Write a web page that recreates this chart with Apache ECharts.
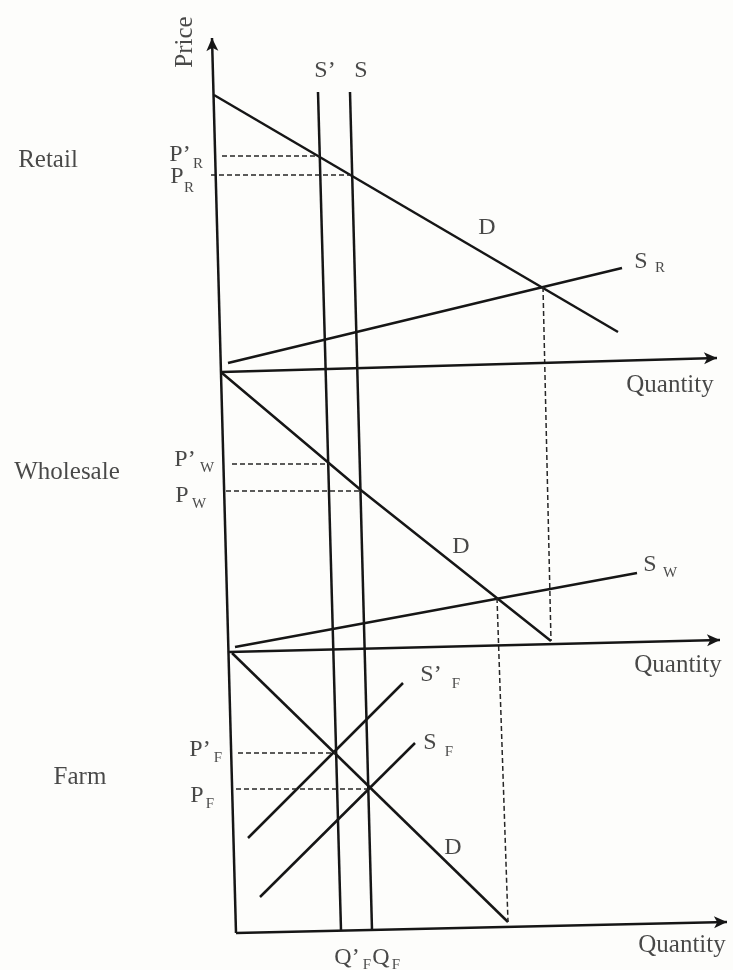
<!DOCTYPE html>
<html>
<head>
<meta charset="utf-8">
<title>Retail / Wholesale / Farm</title>
<script src="https://cdn.jsdelivr.net/npm/echarts@6/dist/echarts.min.js"></script>
<style>
  html, body { margin: 0; padding: 0; background: #fdfdfb; }
  #chart { width: 733px; height: 970px; }
</style>
</head>
<body>
<div id="chart"></div>
<script>
// points, in the chart's own (quantity, price) units; y grows downwards
// price axis (bottom -> arrow) and the three quantity axes (start -> arrow)
const priceAxis = [[236, 933], [212, 38]];
const qtyAxes = [
  [[222, 372], [717, 358]],
  [[229, 652], [720, 640]],
  [[236, 933], [727, 922]]
];
// vertical supply S' and S running through all three markets
const supplyPrime = [[318, 92], [341, 930]];
const supplyBase = [[350, 92], [372, 930]];
// retail
const demandR = [[214, 95], [618, 332]];
const supplyR = [[228, 363], [622, 268]];
// wholesale
const demandW = [[222, 373], [362, 491], [551, 641]];
const supplyW = [[235, 647], [637, 573]];
// farm
const demandF = [[232, 653], [508, 922]];
const supplyPrimeF = [[248, 838], [403, 683]];
const supplyF = [[260, 897], [415, 743]];
// dashed guides
const priceGuides = [
  [[222, 156], [320, 156]],
  [[211, 175], [351, 175]],
  [[232, 464], [329, 464]],
  [[226, 491], [362, 491]],
  [[238, 753], [335, 753]],
  [[236, 789], [369, 789]]
];
const qtyGuides = [
  [[543, 287], [551, 641]],
  [[497, 598], [508, 922]]
];

// text anchors
const wordLabels = [
  [48, 160, 'Retail'], [67, 472, 'Wholesale'], [80, 777, 'Farm'],
  [670, 385, 'Quantity'], [678, 665, 'Quantity'], [682, 945, 'Quantity']
];
const letterLabels = [
  [325, 71, 'S’'], [361, 71, 'S'],
  [180, 155, 'P’'], [177, 177, 'P'],
  [185, 460, 'P’'], [182, 496, 'P'],
  [200, 750, 'P’'], [197, 796, 'P'],
  [487, 228, 'D'], [461, 547, 'D'], [453, 848, 'D'],
  [641, 262, 'S'], [650, 565, 'S'],
  [431, 675, 'S’'], [430, 743, 'S'],
  [347, 958, 'Q’'], [381, 958, 'Q']
];
const subLabels = [
  [198, 164, 'R'], [189, 188, 'R'],
  [207, 468, 'W'], [199, 504, 'W'],
  [218, 758, 'F'], [210, 804, 'F'],
  [660, 268, 'R'], [670, 573, 'W'],
  [456, 684, 'F'], [449, 752, 'F'],
  [367, 965, 'F'], [396, 965, 'F']
];
const axisTitle = [[185, 42, 'Price']];

const ink = '#161616';
const serif = '"Liberation Serif", "DejaVu Serif", serif';

const myChart = echarts.init(document.getElementById('chart'));

function seg(name, pts, dashed) {
  return {
    name: name,
    type: 'line',
    data: pts,
    symbol: 'none',
    silent: true,
    lineStyle: dashed
      ? { color: '#262626', width: 1.5, type: [5, 3] }
      : { color: ink, width: 2.5 }
  };
}

function textSeries(name, list, size, rotate) {
  return {
    name: name,
    type: 'scatter',
    data: list,
    symbolSize: 1,
    silent: true,
    itemStyle: { color: 'rgba(0,0,0,0)' },
    label: {
      show: true,
      position: 'inside',
      formatter: (p) => p.data[2],
      fontFamily: serif,
      fontSize: size,
      color: '#1a1a1a',
      rotate: rotate || 0
    }
  };
}

const series = [
  {
    name: 'axes',
    type: 'line',
    data: [],
    silent: true,
    markLine: {
      silent: true,
      animation: false,
      symbol: ['none', 'arrow'],
      symbolSize: [9, 13],
      label: { show: false },
      lineStyle: { color: ink, width: 2.5, type: 'solid' },
      data: qtyAxes.concat([priceAxis]).map((a) => [{ coord: a[0] }, { coord: a[1] }])
    }
  },
  seg("S'", supplyPrime),
  seg('S', supplyBase),
  seg('D retail', demandR),
  seg('S retail', supplyR),
  seg('D wholesale', demandW),
  seg('S wholesale', supplyW),
  seg('D farm', demandF),
  seg("S' farm", supplyPrimeF),
  seg('S farm', supplyF)
];
priceGuides.concat(qtyGuides).forEach((g, i) => series.push(seg('guide' + i, g, true)));
series.push(textSeries('words', wordLabels, 25));
series.push(textSeries('letters', letterLabels, 24));
series.push(textSeries('subs', subLabels, 15));
series.push(textSeries('price', axisTitle, 25, 90));

const option = {
  animation: false,
  backgroundColor: '#fdfdfb',
  grid: { left: 0, right: 0, top: 0, bottom: 0 },
  xAxis: { type: 'value', min: 0, max: 733, show: false },
  yAxis: { type: 'value', min: 0, max: 970, inverse: true, show: false },
  series: series
};
myChart.setOption(option);
</script>
</body>
</html>
